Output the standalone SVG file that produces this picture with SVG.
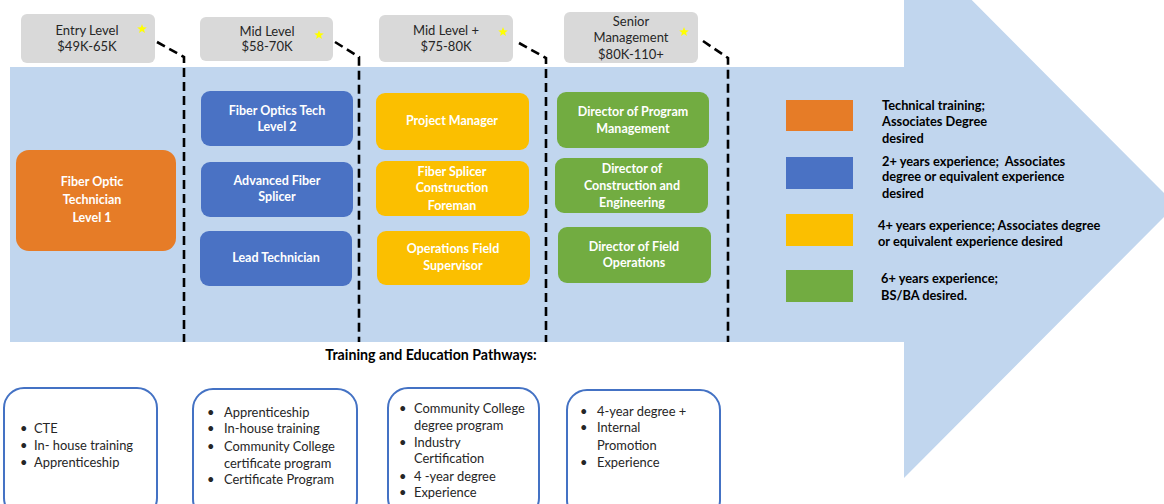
<svg xmlns="http://www.w3.org/2000/svg" width="1164" height="504" viewBox="0 0 1164 504">
<defs>
<style>
.hdr{fill:#D9D9D9}
.ht{font-family:Lato,"Liberation Sans",sans-serif;font-size:13px;fill:#262626;text-anchor:middle}
.nt{font-family:Lato,"Liberation Sans",sans-serif;font-size:12.5px;font-weight:bold;fill:#FFFFFF;text-anchor:middle}
.lt{font-family:Lato,"Liberation Sans",sans-serif;font-size:12.8px;font-weight:bold;fill:#000000}
.tt{font-family:Lato,"Liberation Sans",sans-serif;font-size:14.2px;font-weight:bold;fill:#000000;text-anchor:middle}
.bt{font-family:Lato,"Liberation Sans",sans-serif;font-size:12.9px;fill:#262626}
.dash{fill:none;stroke:#000;stroke-width:2.6;stroke-dasharray:9 5}
.pw{fill:#FFFFFF;stroke:#4472C4;stroke-width:2}
.or{fill:#E67C27}
.bl{fill:#4A72C4}
.ye{fill:#FBBF00}
.gr{fill:#72AC41}
.star{fill:#FFFF00}
</style>
<polygon id="st" points="0,-5 1.2,-1.7 4.8,-1.6 2,0.7 3,4 0,2 -3,4 -2,0.7 -4.8,-1.6 -1.2,-1.7"/>
</defs>
<rect width="1164" height="504" fill="#FFFFFF"/>
<g id="arrow">
<polygon points="10,67 904,67 904,-68 1176,205 904,478 904,342 10,342" fill="#C1D6EE"/>
</g>
<g id="connectors">
<path class="dash" d="M157,42 L184,57 L184,342"/>
<path class="dash" d="M335,42 L359,57 L359,342"/>
<path class="dash" d="M519,43 L546,58 L546,342"/>
<path class="dash" d="M703,41 L728,58 L728,342"/>
</g>
<g id="hdr-entry">
<rect class="hdr" x="21" y="14" width="134" height="49" rx="6"/>
<text class="ht" x="87" y="35">Entry Level</text>
<text class="ht" x="87" y="51">$49K-65K</text>
<use href="#st" class="star" x="142" y="29"/>
</g>
<g id="hdr-mid">
<rect class="hdr" x="200" y="17" width="133" height="44" rx="6"/>
<text class="ht" x="267" y="36">Mid Level</text>
<text class="ht" x="267" y="51">$58-70K</text>
<use href="#st" class="star" x="319" y="35"/>
</g>
<g id="hdr-midplus">
<rect class="hdr" x="379" y="15" width="134" height="47" rx="6"/>
<text class="ht" x="446" y="35">Mid Level +</text>
<text class="ht" x="446" y="51">$75-80K</text>
<use href="#st" class="star" x="503" y="32"/>
</g>
<g id="hdr-senior">
<rect class="hdr" x="564" y="12" width="134" height="51" rx="6"/>
<text class="ht" x="631" y="26">Senior</text>
<text class="ht" x="631" y="42">Management</text>
<text class="ht" x="631" y="59">$80K-110+</text>
<use href="#st" class="star" x="684" y="32"/>
</g>
<g id="n-tech1">
<rect class="or" x="16" y="150" width="160" height="101" rx="13"/>
<text class="nt" x="92" y="186">Fiber Optic</text>
<text class="nt" x="92" y="204">Technician</text>
<text class="nt" x="92" y="222">Level 1</text>
</g>
<g id="n-tech2">
<rect class="bl" x="201" y="91" width="152" height="55" rx="9"/>
<text class="nt" x="277" y="115">Fiber Optics Tech</text>
<text class="nt" x="277" y="131">Level 2</text>
</g>
<g id="n-splicer">
<rect class="bl" x="201" y="162" width="152" height="55" rx="9"/>
<text class="nt" x="277" y="185">Advanced Fiber</text>
<text class="nt" x="277" y="201">Splicer</text>
</g>
<g id="n-lead">
<rect class="bl" x="200" y="231" width="152" height="55" rx="9"/>
<text class="nt" x="276" y="262">Lead Technician</text>
</g>
<g id="n-pm">
<rect class="ye" x="376" y="93" width="153" height="57" rx="9"/>
<text class="nt" x="452" y="125">Project Manager</text>
</g>
<g id="n-foreman">
<rect class="ye" x="376" y="161" width="153" height="55" rx="9"/>
<text class="nt" x="452" y="176">Fiber Splicer</text>
<text class="nt" x="452" y="192">Construction</text>
<text class="nt" x="452" y="210">Foreman</text>
</g>
<g id="n-opsup">
<rect class="ye" x="377" y="231" width="153" height="54" rx="9"/>
<text class="nt" x="453" y="253">Operations Field</text>
<text class="nt" x="453" y="270">Supervisor</text>
</g>
<g id="n-dpm">
<rect class="gr" x="557" y="92" width="152" height="56" rx="9"/>
<text class="nt" x="633" y="116">Director of Program</text>
<text class="nt" x="633" y="133">Management</text>
</g>
<g id="n-dce">
<rect class="gr" x="555" y="158" width="153" height="55" rx="9"/>
<text class="nt" x="632" y="173">Director of</text>
<text class="nt" x="632" y="190">Construction and</text>
<text class="nt" x="632" y="207">Engineering</text>
</g>
<g id="n-dfo">
<rect class="gr" x="558" y="227" width="153" height="56" rx="9"/>
<text class="nt" x="634" y="251">Director of Field</text>
<text class="nt" x="634" y="267">Operations</text>
</g>
<g id="legend">
<rect class="or" x="786" y="100" width="67" height="31"/>
<text class="lt" x="882" y="110">Technical training;</text>
<text class="lt" x="882" y="126">Associates Degree</text>
<text class="lt" x="882" y="143">desired</text>
<rect class="bl" x="786" y="157" width="67" height="32"/>
<text class="lt" x="882" y="166">2+ years experience;&#160; Associates</text>
<text class="lt" x="882" y="181">degree or equivalent experience</text>
<text class="lt" x="882" y="198">desired</text>
<rect class="ye" x="786" y="214" width="67" height="32"/>
<text class="lt" x="878" y="230">4+ years experience; Associates degree</text>
<text class="lt" x="878" y="246">or equivalent experience desired</text>
<rect class="gr" x="786" y="270" width="67" height="32"/>
<text class="lt" x="881" y="283">6+ years experience;</text>
<text class="lt" x="881" y="300">BS/BA desired.</text>
</g>
<g id="pathways-title">
<text class="tt" x="431" y="360">Training and Education Pathways:</text>
</g>
<g id="p-entry">
<rect class="pw" x="4" y="388" width="153" height="130" rx="20"/>
<text class="bt" x="20" y="433">•</text><text class="bt" x="34" y="433">CTE</text>
<text class="bt" x="20" y="450">•</text><text class="bt" x="34" y="450">In- house training</text>
<text class="bt" x="20" y="467">•</text><text class="bt" x="34" y="467">Apprenticeship</text>
</g>
<g id="p-mid">
<rect class="pw" x="193" y="389" width="164" height="130" rx="20"/>
<text class="bt" x="207" y="417">•</text><text class="bt" x="224" y="417">Apprenticeship</text>
<text class="bt" x="207" y="433">•</text><text class="bt" x="224" y="433">In-house training</text>
<text class="bt" x="207" y="451">•</text><text class="bt" x="224" y="451">Community College</text>
<text class="bt" x="224" y="468">certificate program</text>
<text class="bt" x="207" y="484">•</text><text class="bt" x="224" y="484">Certificate Program</text>
</g>
<g id="p-midplus">
<rect class="pw" x="388" y="388" width="151" height="130" rx="20"/>
<text class="bt" x="399" y="413">•</text><text class="bt" x="414" y="413">Community College</text>
<text class="bt" x="414" y="430">degree program</text>
<text class="bt" x="399" y="447">•</text><text class="bt" x="414" y="447">Industry</text>
<text class="bt" x="414" y="463">Certification</text>
<text class="bt" x="399" y="481">•</text><text class="bt" x="414" y="481">4 -year degree</text>
<text class="bt" x="399" y="497">•</text><text class="bt" x="414" y="497">Experience</text>
</g>
<g id="p-senior">
<rect class="pw" x="567" y="390" width="153" height="130" rx="20"/>
<text class="bt" x="580" y="416">•</text><text class="bt" x="597" y="416">4-year degree +</text>
<text class="bt" x="580" y="432">•</text><text class="bt" x="597" y="432">Internal</text>
<text class="bt" x="597" y="450">Promotion</text>
<text class="bt" x="580" y="467">•</text><text class="bt" x="597" y="467">Experience</text>
</g>
</svg>
